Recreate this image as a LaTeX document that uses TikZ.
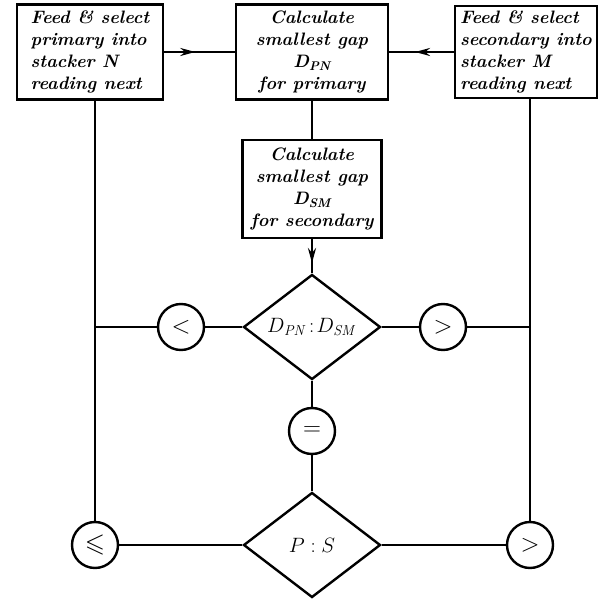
\documentclass[tikz,border=0pt]{standalone}
\usepackage{amssymb}
\usetikzlibrary{shapes.geometric,arrows.meta,decorations.markings}
\begin{document}
\begin{tikzpicture}[x=1pt,y=-1pt,
  line width=2.4pt,
  procbox/.style={draw,rectangle,align=center,inner sep=1pt,
    font=\fontsize{18}{22}\selectfont\bfseries\itshape},
  decision/.style={draw,diamond,inner sep=-10pt,minimum width=137pt,minimum height=105pt,
    font=\fontsize{21}{24}\selectfont},
  relcirc/.style={draw,circle,minimum size=46pt,inner sep=0pt,font=\fontsize{26}{26}\selectfont},
  midarrow/.style={postaction={decorate},decoration={markings,
    mark=at position #1 with {\arrow{Stealth[length=15pt,width=8pt]}}}}
]
\useasboundingbox (0,0) rectangle (605,601);

\node[procbox,align=left,minimum width=146pt,minimum height=95pt] (lbox) at (90,52)
  {Feed \& select\\primary into\\stacker N\\reading next};
\node[procbox,minimum width=152pt,minimum height=95pt] (mbox) at (312,52)
  {Calculate\\smallest gap\\D\textsubscript{PN}\\for primary};
\node[procbox,align=left,minimum width=142pt,minimum height=92pt] (rbox) at (526,52)
  {Feed \& select\\secondary into\\stacker M\\reading next};
\node[procbox,minimum width=139pt,minimum height=98pt] (sbox) at (312,189)
  {Calculate\\smallest gap\\D\textsubscript{SM}\\for secondary};

\node[decision] (d1) at (312,327) {$D_{\mathit{PN}}\!:\!D_{\mathit{SM}}$};
\node[relcirc] (c1) at (181,327) {$<$};
\node[relcirc] (c2) at (443,327) {$>$};
\node[relcirc] (ceq) at (312,431) {$=$};
\node[decision] (d2) at (312,545) {$P:S$};
\node[relcirc] (cle) at (95,545) {$\leqslant$};
\node[relcirc] (cgt) at (530,545) {$>$};

\coordinate (jl) at (95,327);
\coordinate (jr) at (530,327);

\draw[midarrow=0.44] (lbox) -- (mbox);
\draw[midarrow=0.6] (rbox) -- (mbox);
\draw (mbox) -- (sbox);
\draw[midarrow=0.7] (sbox) -- (d1);
\draw (d1) -- (c1);
\draw (c1) -- (jl);
\draw (d1) -- (c2);
\draw (c2) -- (jr);
\draw (d1) -- (ceq);
\draw (ceq) -- (d2);
\draw (d2) -- (cle);
\draw (d2) -- (cgt);
\draw (lbox.south -| cle) -- (cle);
\draw (rbox.south -| cgt) -- (cgt);
\end{tikzpicture}
\end{document}
